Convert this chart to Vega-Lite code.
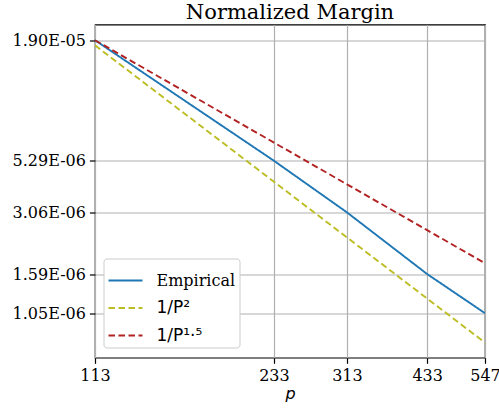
{
  "$schema": "https://vega.github.io/schema/vega-lite/v6.json",
  "autosize": {"type": "none"},
  "padding": {"left": 95, "top": 24.5, "right": 14, "bottom": 51.3},
  "width": 390,
  "height": 333.2,
  "background": "white",
  "title": {"text": "Normalized Margin", "font": "DejaVu Serif", "fontSize": 21, "fontWeight": "normal", "color": "black", "baseline": "alphabetic", "offset": 7, "dy": 22, "anchor": "middle", "frame": "group"},
  "config": {
    "view": {"stroke": "black", "strokeWidth": 1.2},
    "axis": {"labelFont": "DejaVu Serif", "labelFontSize": 16, "labelColor": "black", "tickColor": "black", "tickSize": 5.6, "tickWidth": 1.2, "domain": false, "gridColor": "#b0b0b0", "gridWidth": 1.2, "labelPadding": 4}
  },
  "data": {"values": [
    {"series": "Empirical", "p": 113, "v": 1.90e-5},
    {"series": "Empirical", "p": 233, "v": 5.29e-6},
    {"series": "Empirical", "p": 313, "v": 3.06e-6},
    {"series": "Empirical", "p": 433, "v": 1.59e-6},
    {"series": "Empirical", "p": 547, "v": 1.05e-6},
    {"series": "1/P²", "p": 113, "v": 1.80e-5},
    {"series": "1/P²", "p": 233, "v": 4.234e-6},
    {"series": "1/P²", "p": 313, "v": 2.346e-6},
    {"series": "1/P²", "p": 433, "v": 1.226e-6},
    {"series": "1/P²", "p": 547, "v": 7.68e-7},
    {"series": "1/P¹·⁵", "p": 113, "v": 1.90e-5},
    {"series": "1/P¹·⁵", "p": 233, "v": 6.417e-6},
    {"series": "1/P¹·⁵", "p": 313, "v": 4.121e-6},
    {"series": "1/P¹·⁵", "p": 433, "v": 2.533e-6},
    {"series": "1/P¹·⁵", "p": 547, "v": 1.784e-6}
  ]},
  "mark": {"type": "line", "strokeWidth": 1.9, "clip": true},
  "encoding": {
    "x": {"field": "p", "type": "quantitative",
      "scale": {"type": "log", "domain": [113, 547], "nice": false, "zero": false},
      "axis": {"values": [113, 233, 313, 433, 547], "format": "d", "title": "p", "titleFont": "DejaVu Sans", "titleFontStyle": "italic", "titleFontWeight": "normal", "titleFontSize": 16, "titleColor": "black", "titlePadding": 2, "labelFlush": false, "labelOverlap": false}},
    "y": {"field": "v", "type": "quantitative",
      "scale": {"type": "log", "domain": [6.55e-7, 2.245e-5], "nice": false, "zero": false},
      "axis": {"values": [1.9e-5, 5.29e-6, 3.06e-6, 1.59e-6, 1.05e-6], "labelExpr": "upper(replace(format(datum.value, '.2e'), 'e-', 'e-0'))", "title": null, "labelOverlap": false}},
    "color": {"field": "series", "type": "nominal",
      "scale": {"domain": ["Empirical", "1/P²", "1/P¹·⁵"], "range": ["#1f77b4", "#bcbd22", "#b22222"]},
      "legend": {"title": null, "orient": "none", "legendX": 8.5, "legendY": 234, "symbolType": "stroke", "symbolSize": 1156, "symbolStrokeWidth": 1.9, "labelFont": "DejaVu Sans", "labelFontSize": 17, "labelColor": "black", "fillColor": "white", "strokeColor": "#cccccc", "cornerRadius": 3, "padding": 4, "rowPadding": 1.5, "labelOffset": 13,
        "encode": {"labels": {"update": {"font": {"signal": "datum.label == 'Empirical' ? 'DejaVu Serif' : 'DejaVu Sans'"}, "fontSize": {"signal": "datum.label == 'Empirical' ? 16 : 17"}}}}}},
    "strokeDash": {"field": "series", "type": "nominal",
      "scale": {"domain": ["Empirical", "1/P²", "1/P¹·⁵"], "range": [[1, 0], [6.5, 3.5], [6.5, 3.5]]},
      "legend": null}
  }
}
